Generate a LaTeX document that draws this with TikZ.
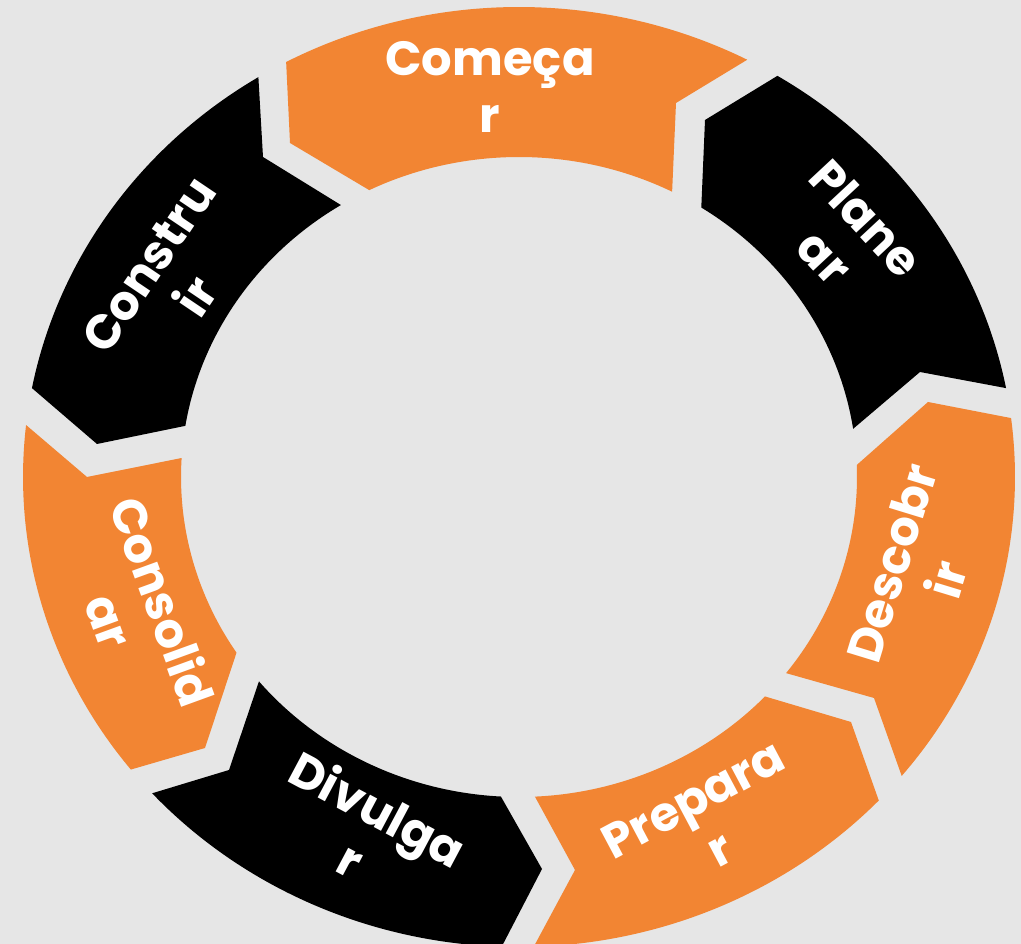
\documentclass[tikz,border=0pt]{standalone}
\usepackage{fontspec}
\setmainfont{Poppins}
\usetikzlibrary{calc}
\definecolor{bg}{HTML}{E6E6E6}
\definecolor{org}{HTML}{F28533}
\newcommand\ringseg[7]{%
  \fill[#1] (#2) -- ($(O)+(#3:496 and 470)$)
    arc[start angle=#3, end angle=#4, x radius=496, y radius=470]
    -- (#5) -- ($(O)+(#6:338 and 320)$)
    arc[start angle=#6, end angle=#7, x radius=338, y radius=320] -- cycle;}
\tikzset{lab/.style={text=white, font=\fontsize{48}{57}\selectfont\bfseries, inner sep=0pt, anchor=base}}
\begin{document}
\begin{tikzpicture}[x=1pt,y=1pt]
\fill[bg] (0,0) rectangle (1021,944);
\useasboundingbox (0,0) rectangle (1021,944);
\coordinate (O) at (519,467);
% segments: color, point, outer ccw, outer cw, notch, inner cw, inner ccw
\ringseg{org}{290,801}{118.0}{62.6}{676,841}{63.06}{116.3}
\ringseg{black}{705,824}{58.6}{10.9}{920,572}{8.66}{57.36}
\ringseg{org}{928,542}{7.2}{-39.5}{874,246}{-37.8}{2.15}
\ringseg{org}{851,222}{-43.5}{-88.3}{575,74}{-87.3}{-43.3}
\ringseg{black}{542,75}{-92}{-137.7}{229,174}{-140.3}{-93.07}
\ringseg{org}{205,196}{-141.5}{-186.35}{87,467}{-183.4}{-146.7}
\ringseg{black}{97,500}{169.1}{121.7}{263,787}{121.8}{170.8}
% labels
\node[lab] (t1) at (490,868) {\begin{tabular}[t]{@{}c@{}}Começa\\r\end{tabular}};
\node[lab, rotate=-47] (t2) at (853.6,713.8) {\begin{tabular}[t]{@{}c@{}}Plane\\ar\end{tabular}};
\node[lab, rotate=73] (t3) at (908.6,376) {\begin{tabular}[t]{@{}c@{}}Descobr\\ir\end{tabular}};
\node[lab, rotate=28] (t4) at (701,130.3) {\begin{tabular}[t]{@{}c@{}}Prepara\\r\end{tabular}};
\node[lab, rotate=-28] (t5) at (369.4,118.9) {\begin{tabular}[t]{@{}c@{}}Divulga\\r\end{tabular}};
\node[lab, rotate=-70] (t6) at (145.7,336.2) {\begin{tabular}[t]{@{}c@{}}Consolid\\ar\end{tabular}};
\node[lab, rotate=56] (t7) at (162.6,669.8) {\begin{tabular}[t]{@{}c@{}}Constru\\ir\end{tabular}};
\end{tikzpicture}
\end{document}
